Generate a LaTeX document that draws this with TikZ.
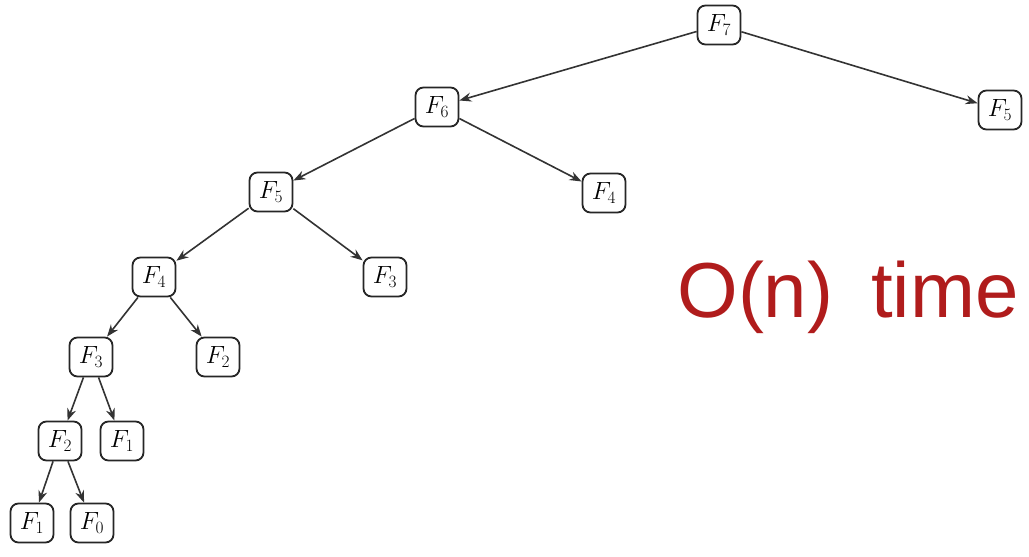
\documentclass[tikz,border=0pt]{standalone}
\usepackage{fontspec}
\newfontfamily\handfont{Liberation Sans}
\usetikzlibrary{arrows.meta}
\definecolor{handred}{HTML}{B01C1C}
\begin{document}
\begin{tikzpicture}[x=1pt,y=-1pt,
  fbox/.style={draw=black!85,line width=1.8pt,rounded corners=8pt,minimum width=43pt,minimum height=39pt,inner sep=0pt,font=\fontsize{27}{30}\selectfont,fill=white},
  edge/.style={draw=black!80,line width=1.6pt,-{Stealth[length=12pt,width=9pt]}}]
\useasboundingbox (0,0) rectangle (1029,557);
\node[fbox] (f7) at (719,25) {$F_7$};
\node[fbox] (f5r) at (1000,110) {$F_5$};
\node[fbox] (f6) at (437,107) {$F_6$};
\node[fbox] (f4m) at (604,193) {$F_4$};
\node[fbox] (f5) at (271,192) {$F_5$};
\node[fbox] (f3m) at (385,277) {$F_3$};
\node[fbox] (f4) at (154,277) {$F_4$};
\node[fbox] (f2p) at (218,357) {$F_2$};
\node[fbox] (f3) at (91,357) {$F_3$};
\node[fbox] (f2) at (60,441) {$F_2$};
\node[fbox] (f1a) at (122,441) {$F_1$};
\node[fbox] (f1b) at (32,523) {$F_1$};
\node[fbox] (f0) at (92,523) {$F_0$};
\draw[edge] (f7) -- (f6);
\draw[edge] (f7) -- (f5r);
\draw[edge] (f6) -- (f5);
\draw[edge] (f6) -- (f4m);
\draw[edge] (f5) -- (f4);
\draw[edge] (f5) -- (f3m);
\draw[edge] (f4) -- (f3);
\draw[edge] (f4) -- (f2p);
\draw[edge] (f3) -- (f2);
\draw[edge] (f3) -- (f1a);
\draw[edge] (f2) -- (f1b);
\draw[edge] (f2) -- (f0);
\node[text=handred,font=\handfont\fontsize{78}{78}\selectfont,inner sep=0pt] (hand) at (848,297) {O(n)\hspace{38pt}time};
\end{tikzpicture}
\end{document}
